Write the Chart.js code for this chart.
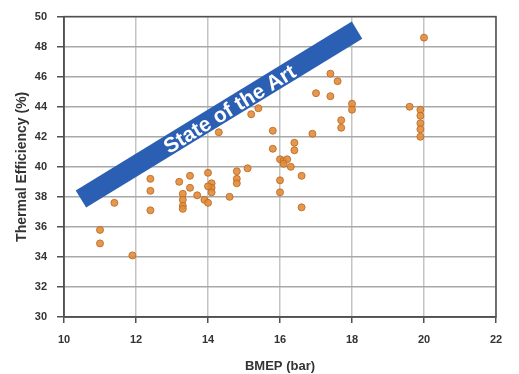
<!DOCTYPE html>
<html>
<head>
<meta charset="utf-8">
<script src="https://cdn.jsdelivr.net/npm/chart.js@4"></script>
<style>
  html, body { margin: 0; padding: 0; background: #fff; }
  #wrap { width: 519px; height: 374px; }
</style>
</head>
<body>
<div id="wrap"><canvas id="chart" width="519" height="374"></canvas></div>
<script>
// BMEP (bar) values
const bmep = [11.0, 11.0, 11.9, 11.4,
  12.4, 12.4, 12.4,
  13.2, 13.3, 13.3, 13.3, 13.3,
  13.5, 13.5, 13.7, 13.9, 14.0, 14.0,
  14.1, 14.1, 14.1, 14.0,
  14.3, 14.6,
  14.8, 14.8, 14.8,
  15.1, 15.2, 15.4,
  15.8, 15.8,
  16.0, 16.1, 16.2, 16.1, 16.3,
  16.0, 16.0,
  16.4, 16.4, 16.6, 16.6,
  16.9, 17.0,
  17.4, 17.6, 17.4, 17.7, 17.7,
  18.0, 18.0,
  19.6, 19.9, 19.9, 19.9, 19.9, 19.9, 20.0];
// thermal efficiency (%) for each point above
const efficiency = [35.8, 34.9, 34.1, 37.6,
  39.2, 38.4, 37.1,
  39.0, 38.2, 37.8, 37.4, 37.2,
  39.4, 38.6, 38.1, 37.8, 37.6, 39.6,
  38.9, 38.6, 38.3, 38.7,
  42.3, 38.0,
  39.7, 39.2, 38.9,
  39.9, 43.5, 43.9,
  42.4, 41.2,
  40.5, 40.4, 40.5, 40.2, 40.0,
  39.1, 38.3,
  41.6, 41.1, 39.4, 37.3,
  42.2, 44.9,
  46.2, 45.7, 44.7, 43.1, 42.6,
  44.2, 43.8,
  44.0, 43.8, 43.4, 42.9, 42.5, 42.0, 48.6];

const xTicks = [10, 12, 14, 16, 18, 20, 22];
const yTicks = [30, 32, 34, 36, 38, 40, 42, 44, 46, 48, 50];

// banner ends, in data units
const bannerStart = [10.47, 37.85];
const bannerEnd = [18.14, 49.1];
const bannerLabel = 'State of the Art';

const points = bmep.map((x, i) => ({ x: x, y: efficiency[i] }));

const frame = {
  id: 'frame',
  afterDraw(c) {
    const a = c.chartArea, ctx = c.ctx;
    ctx.save();
    ctx.strokeStyle = '#505050';
    ctx.lineWidth = 1.5;
    ctx.strokeRect(a.left, a.top, a.right - a.left, a.bottom - a.top);
    ctx.restore();
  }
};

const banner = {
  id: 'banner',
  afterDatasetsDraw(c) {
    const xs = c.scales.x, ys = c.scales.y, ctx = c.ctx;
    const x0 = xs.getPixelForValue(bannerStart[0]), y0 = ys.getPixelForValue(bannerStart[1]);
    const x1 = xs.getPixelForValue(bannerEnd[0]), y1 = ys.getPixelForValue(bannerEnd[1]);
    const len = Math.hypot(x1 - x0, y1 - y0);
    const ang = Math.atan2(y1 - y0, x1 - x0);
    ctx.save();
    ctx.translate((x0 + x1) / 2, (y0 + y1) / 2);
    ctx.rotate(ang);
    ctx.fillStyle = '#2b5fb4';
    ctx.fillRect(-len / 2, -10, len, 20);
    ctx.fillStyle = '#ffffff';
    ctx.font = 'bold 21px "Liberation Sans", Arial, sans-serif';
    ctx.textAlign = 'center';
    ctx.textBaseline = 'middle';
    ctx.fillText(bannerLabel, 12, 2);
    ctx.restore();
  }
};

const font = '"Liberation Sans", Arial';

new Chart(document.getElementById('chart'), {
  type: 'scatter',
  data: {
    datasets: [{
      data: points,
      pointRadius: 3.5,
      pointBackgroundColor: 'rgba(226,140,58,0.9)',
      pointBorderColor: 'rgba(190,110,40,0.9)',
      pointBorderWidth: 1
    }]
  },
  options: {
    responsive: false,
    animation: false,
    layout: { padding: { top: 16, right: 23, left: 0, bottom: 0 } },
    plugins: { legend: { display: false }, tooltip: { enabled: false } },
    scales: {
      x: {
        type: 'linear', min: 10, max: 22,
        afterBuildTicks: s => { s.ticks = xTicks.map(v => ({ value: v })); },
        afterFit: s => { s.height = 57; },
        grid: { color: '#c4c4c4', lineWidth: 1.5, tickLength: 6, tickColor: '#505050' },
        border: { color: '#505050', width: 1.5 },
        ticks: { color: '#333', padding: 10, font: { family: font, size: 11, weight: 'bold' } },
        title: { display: true, text: 'BMEP (bar)', color: '#333', padding: { top: 1, bottom: 0 },
                 font: { family: font, size: 13, weight: 'bold' } }
      },
      y: {
        type: 'linear', min: 30, max: 50,
        afterBuildTicks: s => { s.ticks = yTicks.map(v => ({ value: v })); },
        afterFit: s => { s.width = 64; },
        grid: { color: '#a8a8a8', lineWidth: 1.5, tickLength: 7, tickColor: '#505050' },
        border: { color: '#505050', width: 1.5 },
        ticks: { color: '#333', padding: 10, font: { family: font, size: 11, weight: 'bold' } },
        title: { display: true, text: 'Thermal Efficiency (%)', color: '#333', padding: { top: 14, bottom: 0 },
                 font: { family: font, size: 14, weight: 'bold' } }
      }
    }
  },
  plugins: [banner, frame]
});
</script>
</body>
</html>
